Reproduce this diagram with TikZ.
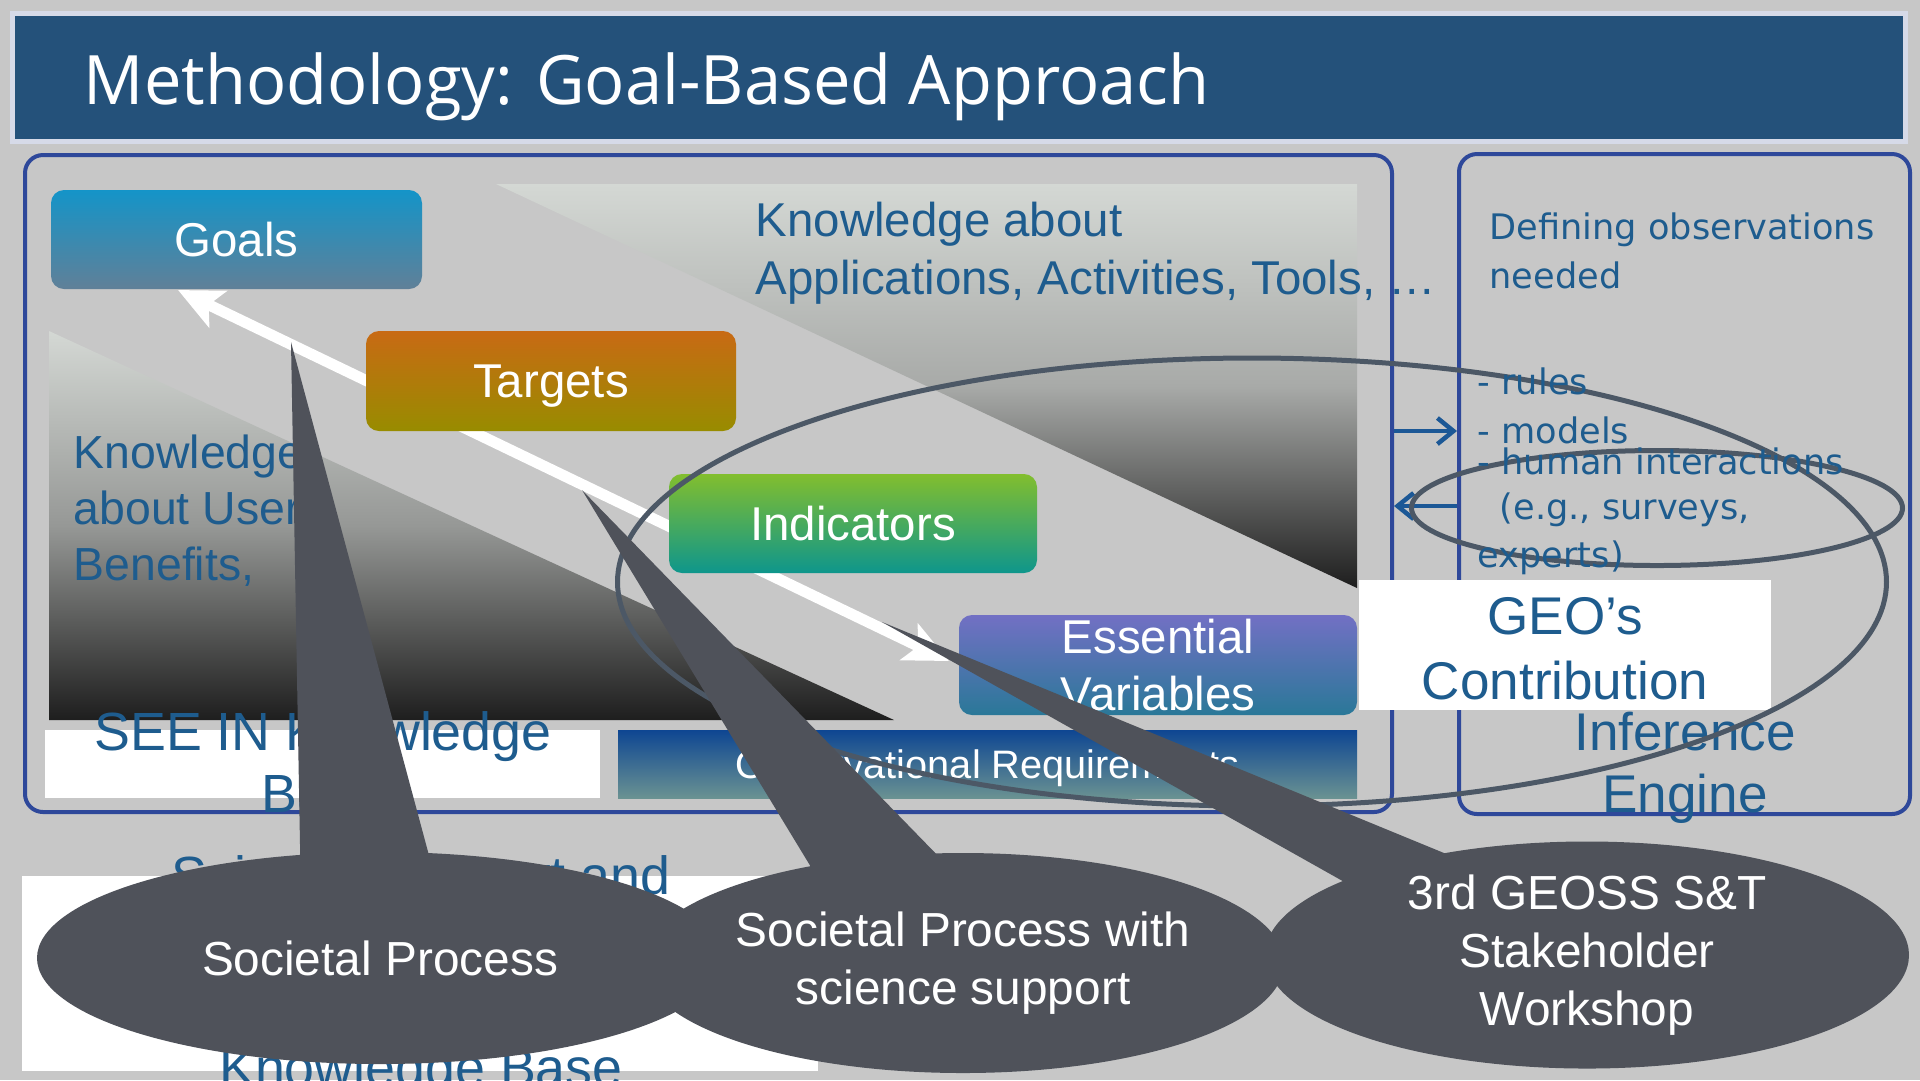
\documentclass[tikz,border=0pt]{standalone}
\usepackage{fontspec}
\setmainfont{Liberation Sans}
\newfontfamily\verdfont{DejaVu Sans}
\newfontfamily\titlefont[FakeStretch=0.98]{Open Sans}
\usetikzlibrary{arrows.meta,shapes.geometric}
\newcommand{\myfs}[2]{\fontsize{#1}{#2}\selectfont}
\definecolor{bgc}{RGB}{199,199,199}
\definecolor{titleblue}{RGB}{36,81,122}
\definecolor{titleedge}{RGB}{214,218,232}
\definecolor{panelblue}{RGB}{46,72,154}
\definecolor{txtblue}{RGB}{30,92,142}
\definecolor{bubblec}{RGB}{79,82,90}
\definecolor{ringc}{RGB}{76,88,102}
\definecolor{arrblue}{RGB}{28,88,150}
\definecolor{trilight}{RGB}{212,216,212}
\definecolor{trimidA}{RGB}{168,170,168}
\definecolor{trimidB}{RGB}{150,152,150}
\definecolor{tridark}{RGB}{30,30,30}
\definecolor{goalT}{RGB}{20,148,200}
\definecolor{goalB}{RGB}{96,128,152}
\definecolor{targT}{RGB}{200,106,20}
\definecolor{targB}{RGB}{152,140,0}
\definecolor{indT}{RGB}{130,190,46}
\definecolor{indB}{RGB}{14,150,140}
\definecolor{evT}{RGB}{114,112,196}
\definecolor{evB}{RGB}{42,120,152}
\definecolor{obsT}{RGB}{14,70,146}
\definecolor{obsB}{RGB}{106,146,146}
\begin{document}
\begin{tikzpicture}[x=0.1mm,y=-0.1mm,
  stagebox/.style={rounded corners=1.3mm, inner sep=0pt, text=white, align=center, font=\myfs{13.5}{16.2}},
  panelbox/.style={draw=panelblue, line width=0.4mm, rounded corners=1.8mm, inner sep=0pt},
  whitebox/.style={fill=white, inner sep=0pt},
  bluetxt/.style={text=txtblue, inner sep=0pt},
  verdtxt/.style={text=txtblue, inner sep=0pt, font=\verdfont\myfs{10}{13.7}, anchor=base west},
  ring/.style={draw=ringc, line width=0.5mm, ellipse, inner sep=0pt},
  bubble/.style={fill=bubblec, ellipse, inner sep=0pt, text=white, align=center, font=\myfs{13.6}{16.5}},
  bigarrow/.style={draw=white, line width=1.1mm, {Stealth[length=4.4mm,width=4mm,inset=1mm]}-{Stealth[length=4.4mm,width=4mm,inset=1mm]}},
  smallarrow/.style={draw=arrblue, line width=0.45mm, -{Straight Barb[length=1.6mm,width=2.6mm]}},
]
\fill[bgc] (0,0) rectangle (1920,1080);
\useasboundingbox (0,0) rectangle (1920,1080);
% title
\node[fill=titleblue, draw=titleedge, line width=0.5mm, minimum width=189.3mm, minimum height=12.8mm, inner sep=0pt] (tbar) at (959,77) {};
\node[anchor=base west, inner sep=0pt, text=white, font=\titlefont\myfs{19.4}{23}] (title) at (83,104) {Methodology: Goal-Based Approach};
% gradient triangles
\shade[top color=trilight, bottom color=tridark, middle color=trimidA] (496,184) -- (1357,184) -- (1357,588) -- cycle;
\shade[top color=trilight, bottom color=tridark, middle color=trimidB] (49,331) -- (49,720) -- (894,720) -- cycle;
% panels
\node[panelbox, minimum width=136.7mm, minimum height=65.7mm] (lpanel) at (708.5,483.5) {};
\node[panelbox, minimum width=45.1mm, minimum height=66mm] (rpanel) at (1684.5,484) {};
% white arrow
\coordinate (wa1) at (178,290);
\coordinate (wa2) at (949,661);
\draw[bigarrow] (wa1) -- (wa2);
% stage boxes
\node[stagebox, top color=goalT, bottom color=goalB, minimum width=37.1mm, minimum height=9.9mm] (goals) at (236.5,239.5) {Goals};
\node[stagebox, top color=targT, bottom color=targB, minimum width=37mm, minimum height=10mm, text depth=0pt] (targets) at (551,381) {Targets};
\node[stagebox, top color=indT, bottom color=indB, minimum width=36.8mm, minimum height=9.9mm] (indic) at (853,523.5) {Indicators};
\node[stagebox, top color=evT, bottom color=evB, minimum width=39.8mm, minimum height=10mm] (ev) at (1158,665) {Essential\\Variables};
\node[stagebox, rounded corners=0pt, top color=obsT, bottom color=obsB, minimum width=73.9mm, minimum height=6.8mm, font=\myfs{11.3}{13}, text depth=0pt] (obs) at (987.5,764) {Observational Requirements};
% white boxes
\node[whitebox, minimum width=55.5mm, minimum height=6.8mm] (seebox) at (322.5,764) {};
\node[whitebox, minimum width=41.2mm, minimum height=13mm] (geobox) at (1565,645) {};
\node[whitebox, minimum width=79.6mm, minimum height=19.5mm] (scibox) at (420,973.5) {};
% texts (base anchor = baseline of the last line)
\node[bluetxt, anchor=base west, align=left, font=\myfs{13.5}{16.4}] (kapp) at (755,294) {Knowledge about\\Applications, Activities, Tools, …};
\node[bluetxt, anchor=base west, align=left, font=\myfs{13.2}{15.9}] (kuser) at (73,580) {Knowledge\\about User\\Benefits,};
\node[bluetxt, anchor=base, align=center, font=\myfs{15.3}{17.4}] (seetxt) at (323,812) {SEE IN Knowledge\\Base};
\node[bluetxt, anchor=base, font=\myfs{15.3}{17.4}] (scitxt) at (421,894) {Science Support and};
\node[bluetxt, anchor=base, font=\myfs{15.3}{17.4}] (kbtxt) at (421,1086) {Knowledge Base};
\node[verdtxt, align=left] (defobs) at (1489,288) {Defining observations\\needed};
\node[bluetxt, anchor=base, align=center, font=\myfs{15.1}{18.5}] (geotxt) at (1565,699) {GEO’s\\Contribution};
\node[bluetxt, anchor=base, align=center, font=\myfs{15.1}{17.4}] (inftxt) at (1685,812) {Inference\\Engine};
% small arrows
\draw[smallarrow] (lpanel.east |- 0,431) -- (rpanel.west |- 0,431);
\draw[smallarrow] (rpanel.west |- 0,506) -- (lpanel.east |- 0,506);
% rings
\node[ring, minimum width=126.9mm, minimum height=44.8mm] (bigring) at (1252,582) {};
\node[ring, minimum width=49.1mm, minimum height=11.5mm] (smallring) at (1657,508) {};
% list text in the right panel (printed over the rings)
\node[verdtxt] (rules) at (1477,394) {- rules};
\node[verdtxt] (models) at (1477,443) {- models};
\node[verdtxt] (human) at (1477,474) {- human interactions};
\node[verdtxt] (eg) at (1499,519) {(e.g., surveys,};
\node[verdtxt] (experts) at (1477,567) {experts)};
% bubbles
\coordinate (tip1) at (291,342);
\coordinate (tip2) at (582,490);
\coordinate (tip3) at (882,622);
\fill[bubblec] (tip1) -- (301,900) -- (441,900) -- cycle;
\fill[bubblec] (tip2) -- (831,900) -- (981,900) -- cycle;
\fill[bubblec] (tip3) -- (1412,920) -- (1607,920) -- cycle;
\node[bubble, minimum width=68.6mm, minimum height=21.2mm] (b1) at (380,958) {Societal Process};
\node[bubble, minimum width=63mm, minimum height=22mm] (b2) at (963,963) {Societal Process with\\science support};
\node[bubble, minimum width=64.4mm, minimum height=20.6mm] (b3) at (1587,955) {3rd GEOSS S\&T\\Stakeholder\\Workshop};
\end{tikzpicture}
\end{document}
